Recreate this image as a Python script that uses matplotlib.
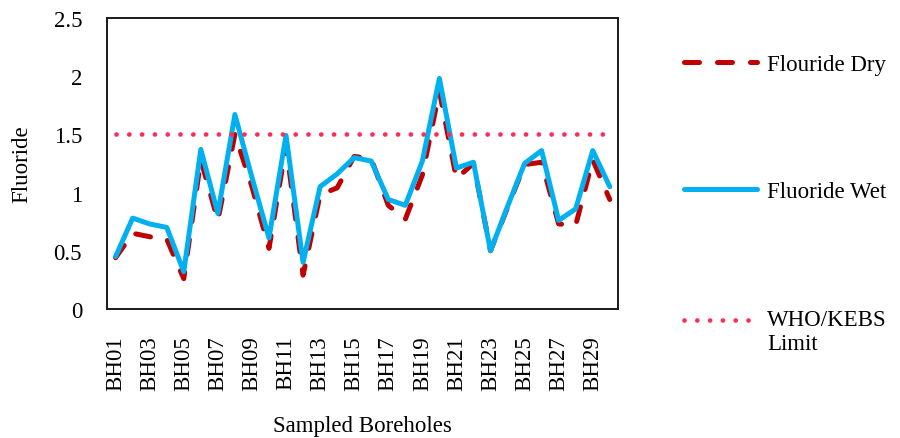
import matplotlib
matplotlib.use("Agg")
import matplotlib.pyplot as plt
from matplotlib.legend_handler import HandlerLine2D
import numpy as np

boreholes = [f"BH{i:02d}" for i in range(1, 31)]
fluoride_dry = [0.44, 0.65, 0.62, 0.60, 0.26, 1.28, 0.76, 1.50, 1.05, 0.52,
                1.40, 0.29, 0.98, 1.04, 1.31, 1.29, 0.89, 0.77, 1.15, 1.87,
                1.12, 1.25, 0.50, 0.87, 1.24, 1.26, 0.73, 0.72, 1.28, 0.94]
fluoride_wet = [0.45, 0.78, 0.73, 0.70, 0.32, 1.37, 0.82, 1.67, 1.13, 0.61,
                1.49, 0.40, 1.05, 1.16, 1.30, 1.27, 0.94, 0.89, 1.27, 1.98,
                1.21, 1.26, 0.50, 0.88, 1.25, 1.36, 0.76, 0.86, 1.36, 1.05]
who_limit = [1.5] * 30

plt.rcParams['font.family'] = ['Liberation Serif', 'DejaVu Serif']
FS = 16.5


class ShiftedHandler(HandlerLine2D):
    def __init__(self, shift, **kw):
        super().__init__(**kw)
        self.shift = shift

    def create_artists(self, legend, orig_handle, xdescent, ydescent, width,
                       height, fontsize, trans):
        return super().create_artists(legend, orig_handle, xdescent,
                                      ydescent - self.shift * fontsize,
                                      width, height, fontsize, trans)


fig = plt.figure(figsize=(9, 4.39), dpi=100)
ax = fig.add_axes([0.119, 0.294, 0.568, 0.663])

x = np.arange(len(boreholes))
ax.plot(x, fluoride_dry, color='#C00000', lw=3.6, dashes=(3, 3.6),
        dash_capstyle='round', solid_joinstyle='round', label='Flouride Dry')
ax.plot(x, fluoride_wet, color='#00B0F0', lw=3.6, solid_joinstyle='round',
        solid_capstyle='round', label='Fluoride Wet')
lim, = ax.plot(x, who_limit, color='#FF2D55', lw=3.4, dashes=(0.01, 2.7),
               dash_capstyle='round', label='WHO/KEBS\nLimit')

ax.set_xlim(-0.5, len(boreholes) - 0.5)
ax.set_ylim(0, 2.5)
ax.set_yticks([0, 0.5, 1, 1.5, 2, 2.5])
ax.set_yticklabels(['0', '0.5', '1', '1.5', '2', '2.5'])
ax.set_xticks(x[::2])
ax.set_xticklabels(boreholes[::2], rotation=90)
ax.tick_params(axis='both', length=0, labelsize=FS)
ax.tick_params(axis='y', pad=18)
ax.tick_params(axis='x', pad=19)
for s in ax.spines.values():
    s.set_linewidth(1.4)
    s.set_color('#1a1a1a')

ax.set_xlabel('Sampled Boreholes', fontsize=FS)
ax.set_ylabel('Fluoride', fontsize=FS)
ax.xaxis.set_label_coords(0.5, -0.40)
ax.xaxis.label.set_va('center')
ax.yaxis.set_label_coords(-0.166, 0.5)
ax.yaxis.label.set_va('center')

leg = ax.legend(loc='upper left', bbox_to_anchor=(1.11, 0.909), frameon=False,
                fontsize=FS, labelspacing=4.65, handlelength=3.2,
                handletextpad=0.45, borderaxespad=0,
                handler_map={lim: ShiftedHandler(0.95)})

fig.savefig('out.png', dpi=100)
